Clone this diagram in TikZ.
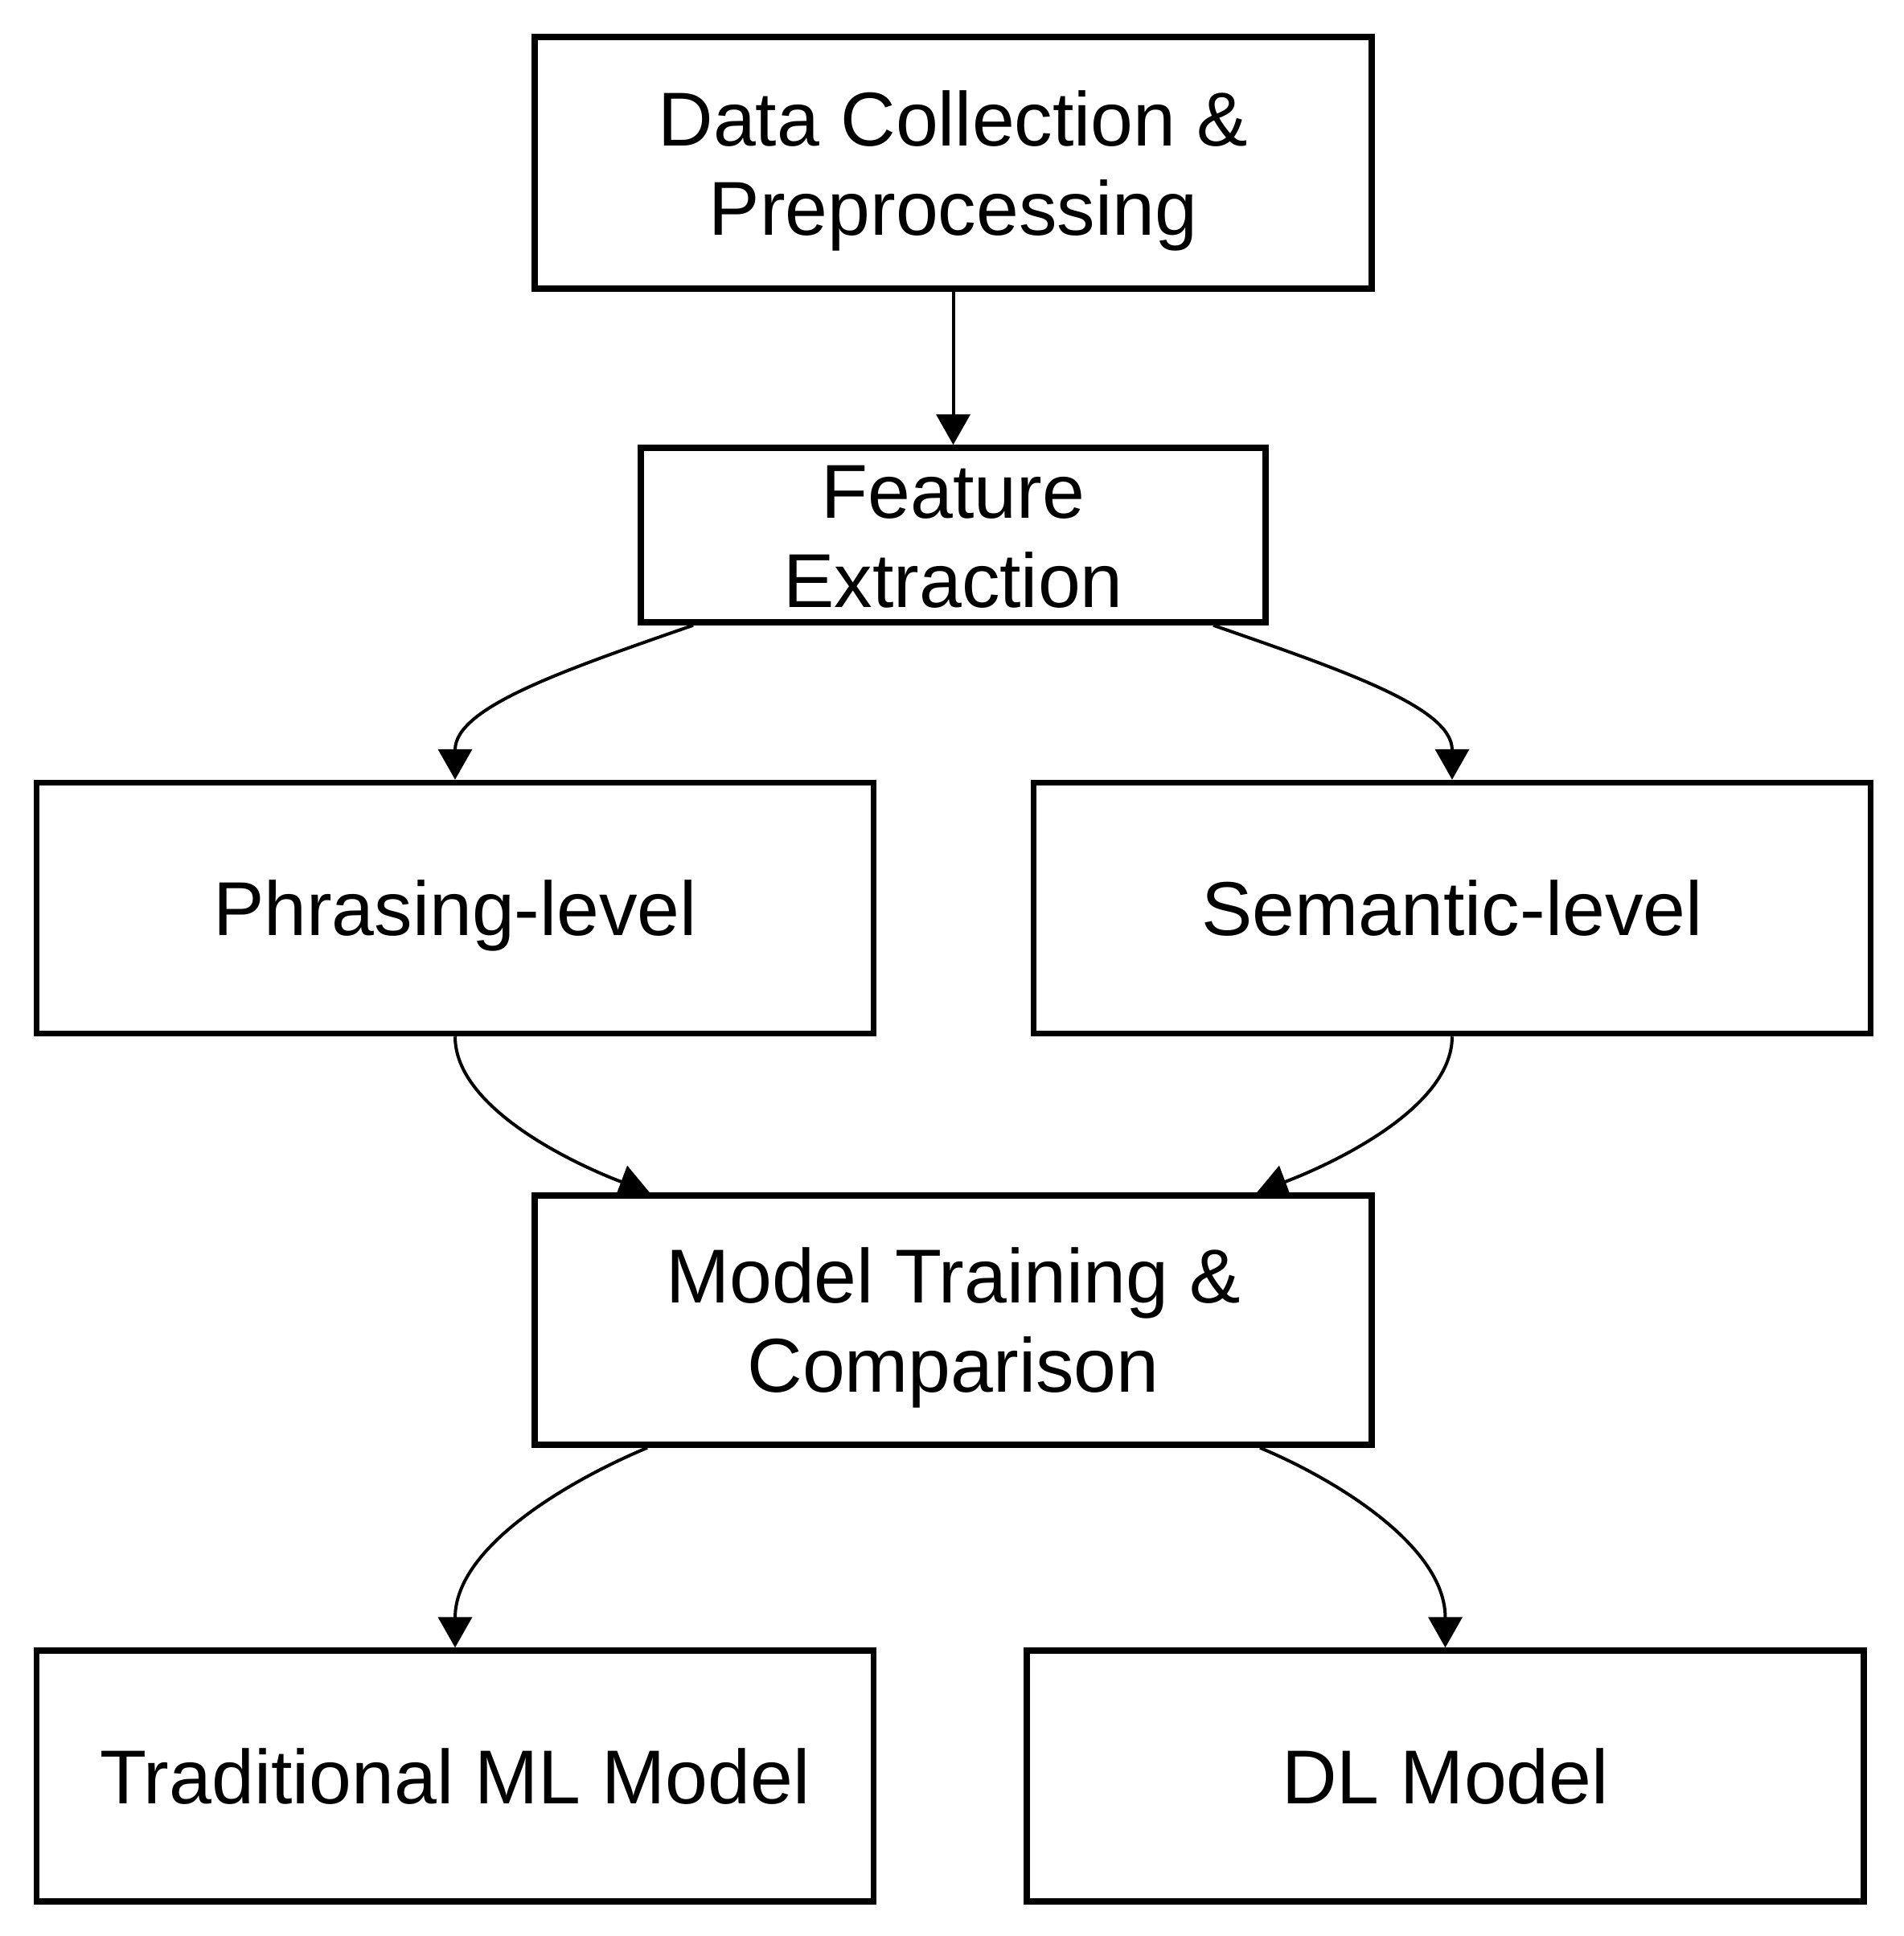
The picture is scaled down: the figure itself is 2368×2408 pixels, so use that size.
\documentclass[tikz,border=0pt]{standalone}
\usepackage{fontspec}
\setmainfont{Liberation Sans}
\usetikzlibrary{arrows.meta}
\pgfdeclarelayer{bg}
\pgfsetlayers{bg,main}
\begin{document}
\begin{tikzpicture}[x=0.3pt,y=-0.3pt,
  box/.style={draw=black, fill=white, line width=2.25pt, inner sep=0pt,
    minimum width=312.3pt, minimum height=93.6pt, align=center,
    font=\fontsize{28.5pt}{33.3pt}\selectfont},
  oneline/.style={text height=20.4pt, text depth=0pt},
  twoline/.style={text height=53.7pt, text depth=0pt},
  conn/.style={line width=1.2pt, -{Triangle[width=12.6pt,length=11.4pt]}}]
\useasboundingbox (0,0) rectangle (2368,2408);
\node[box, twoline, minimum height=93.9pt] (b1) at (1185.5,202.5) {Data Collection \&\\Preprocessing};
\node[box, twoline, minimum width=233.1pt, minimum height=65.1pt] (b2) at (1185.5,665.5) {Feature\\Extraction};
\node[box, oneline] (b3) at (566,1129.5) {Phrasing-level};
\node[box, oneline] (b4) at (1806,1129.5) {Semantic-level};
\node[box, twoline, minimum height=93pt] (b5) at (1185.5,1642) {Model Training \&\\Comparison};
\node[box, oneline] (b6) at (566,2209) {Traditional ML Model};
\node[box, oneline] (b7) at (1797.5,2209) {DL Model};
\begin{pgfonlayer}{bg}
\draw[conn] (b1.south) -- (b2.north);
\draw[conn] ([xshift=-97.05pt]b2.south) .. controls (700,834) and (566,880) .. (b3.north);
\draw[conn] ([xshift=97.05pt]b2.south) .. controls (1671,834) and (1806,880) .. (b4.north);
\draw[conn] (b3.south) .. controls (566,1380) and (720,1450) .. ([xshift=-113.25pt]b5.north);
\draw[conn] (b4.south) .. controls (1806,1380) and (1651,1450) .. ([xshift=113.25pt]b5.north);
\draw[conn] ([xshift=-114.15pt]b5.south) .. controls (720,1836) and (566,1920) .. (b6.north);
\draw[conn] ([xshift=114.45pt]b5.south) .. controls (1652,1836) and (1797.5,1920) .. (b7.north);
\end{pgfonlayer}
\end{tikzpicture}
\end{document}
